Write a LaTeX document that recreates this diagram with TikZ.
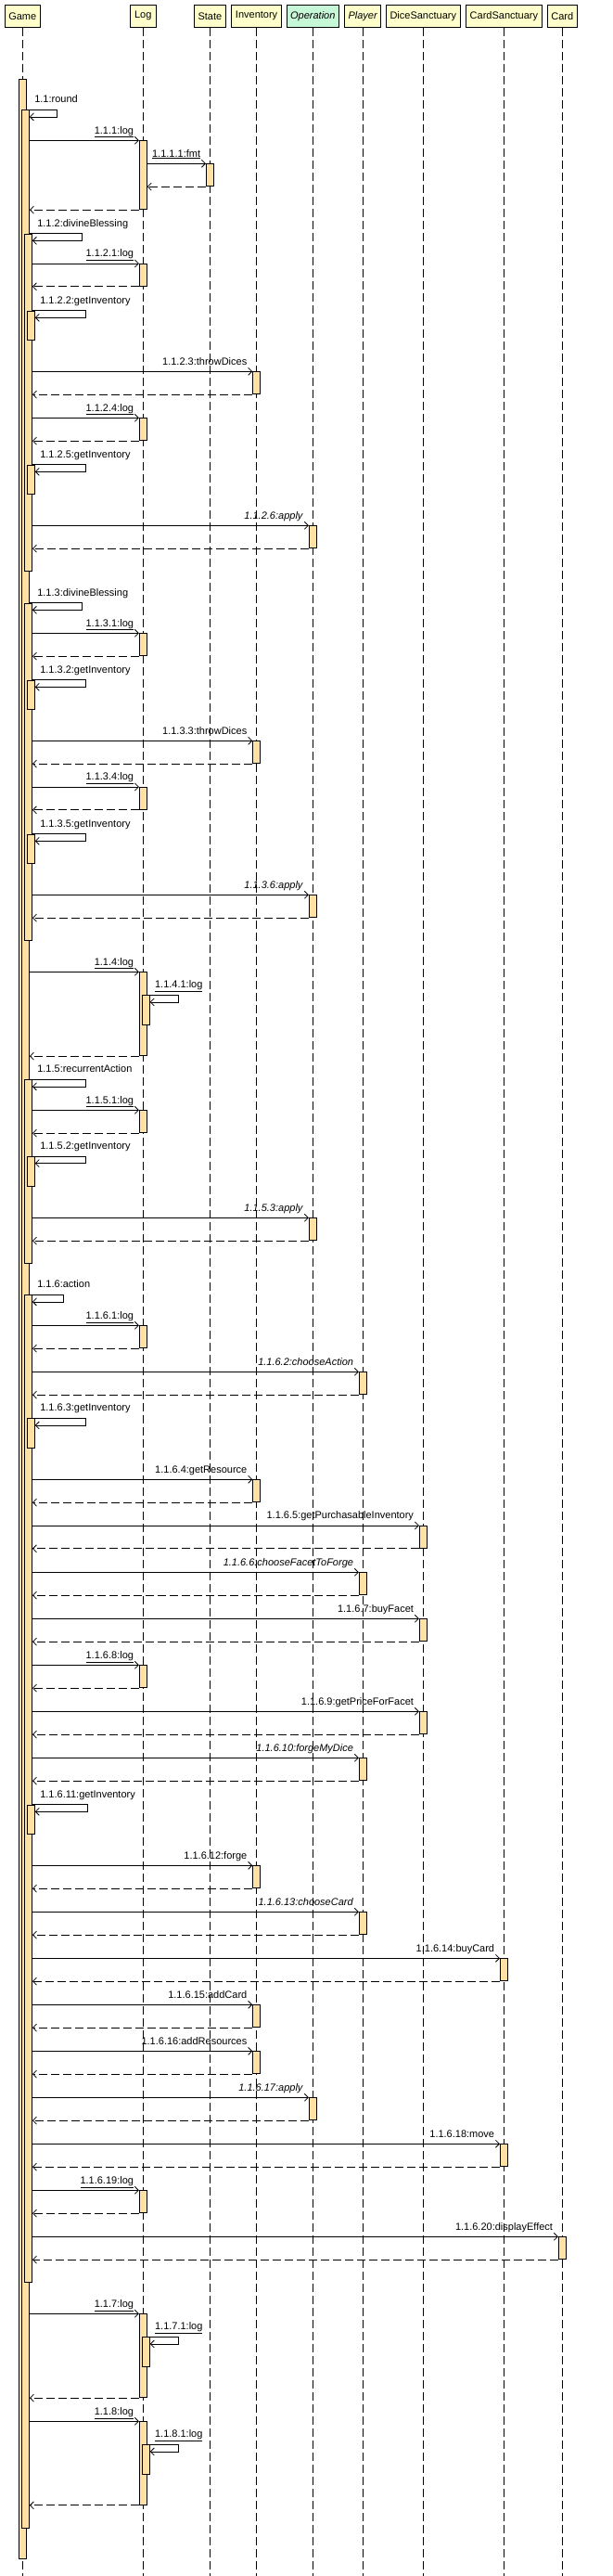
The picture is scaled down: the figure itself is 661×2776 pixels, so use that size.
\documentclass[tikz,border=0pt]{standalone}
\usepackage{fontspec}
\setmainfont{Liberation Sans}
\usepackage{tikz}
\usetikzlibrary{arrows.meta,positioning}
\definecolor{headyellow}{RGB}{255,255,204}
\definecolor{opgreen}{RGB}{198,247,214}
\definecolor{actorange}{RGB}{255,224,165}
\tikzset{
	lifehead/.style={draw,rectangle,fill=headyellow,minimum height=24.5pt,inner xsep=2pt},
	act/.style={draw,rectangle,fill=actorange,minimum width=8pt,minimum height=24pt,inner sep=0pt,anchor=north},
	lifeline/.style={dash pattern=on 9pt off 4pt},
	call/.style={-{Straight Barb[length=4pt,width=8pt]}},
	ret/.style={dash pattern=on 9pt off 4pt,-{Straight Barb[length=4pt,width=8pt]}},
	msg/.style={anchor=base east,xshift=-5.5pt,yshift=7.3pt,inner sep=0pt},
	selfmsg/.style={anchor=base west,xshift=8pt,yshift=7.5pt,inner sep=0pt}
}

\begin{document}
\begin{tikzpicture}[x=1pt,y=-1pt,line width=0.8pt,font=\fontsize{11}{13}\selectfont]
	\useasboundingbox (0,0) rectangle (661,2776);
	\coordinate (bottom) at (0,2776);
	
	\node[lifehead,minimum width=37.6pt] (game) at (24.3,17.25) {Game};
	\node[lifehead,minimum width=28pt] (log) at (154.3,17.25) {Log};
	\node[lifehead,minimum width=33.5pt] (state) at (226.4,17.25) {State};
	\node[lifehead,minimum width=54pt] (inv) at (276.6,17.25) {Inventory};
	\node[lifehead,minimum width=55.6pt,fill=opgreen] (op) at (337.3,17.25) {\textit{Operation}};
	\node[lifehead,minimum width=39pt] (player) at (391.3,17.25) {\textit{Player}};
	\node[lifehead,minimum width=79.5pt] (dice) at (456.3,17.25) {DiceSanctuary};
	\node[lifehead,minimum width=81.5pt] (cards) at (543.4,17.25) {CardSanctuary};
	\node[lifehead,minimum width=32.7pt] (card) at (606.3,17.25) {Card};
	
	\draw[lifeline] (game.south) -- (game.south |- bottom);
	\draw[lifeline] (log.south) -- (log.south |- bottom);
	\draw[lifeline] (state.south) -- (state.south |- bottom);
	\draw[lifeline] (inv.south) -- (inv.south |- bottom);
	\draw[lifeline] (op.south) -- (op.south |- bottom);
	\draw[lifeline] (player.south) -- (player.south |- bottom);
	\draw[lifeline] (dice.south) -- (dice.south |- bottom);
	\draw[lifeline] (cards.south) -- (cards.south |- bottom);
	\draw[lifeline] (card.south) -- (card.south |- bottom);
	
	\node[act,minimum height=2672pt] (g0) at (24.5,85.3) {};
	\node[act,minimum height=2606pt] (g1) at (27.5,118.3) {};
	\draw[call] (g1.north -| g0.east) node[selfmsg] (m11) {1.1:round} -- ++(32.2,0) |- ([yshift=-7.6pt]g1.north east);
	
	% 1.1.1 log
	\node[act,minimum height=74pt] (l111) at (154.3,151.3) {};
	\draw[call] (l111.north west -| g1.east) -- (l111.north west) node[msg] (m111) {\underline{1.1.1:log}};
	\node[act] (s1111) at (226.4,176.3) {};
	\draw[call] (s1111.north west -| l111.east) -- (s1111.north west) node[msg] (m1111) {\underline{1.1.1.1:fmt}};
	\draw[ret] (s1111.south west) -- (s1111.south west -| l111.east);
	\draw[ret] (l111.south west) -- (l111.south west -| g1.east);
	
	% 1.1.2 divineBlessing
	\node[act,minimum height=363.3pt] (g112) at (30.5,251.7) {};
	\draw[call] (g112.north -| g1.east) node[selfmsg] (m112) {1.1.2:divineBlessing} -- ++(56.8,0) |- ([yshift=-7.6pt]g112.north east);
	\node[act] (l1121) at (154.3,284) {};
	\draw[call] (l1121.north west -| g112.east) -- (l1121.north west) node[msg] (m1121) {\underline{1.1.2.1:log}};
	\draw[ret] (l1121.south west) -- (l1121.south west -| g112.east);
	\node[act,minimum height=31.6pt] (g1122) at (33.3,334.7) {};
	\draw[call] (g1122.north -| g112.east) node[selfmsg] (m1122) {1.1.2.2:getInventory} -- ++(57.2,0) |- ([yshift=-7.6pt]g1122.north east);
	\node[act] (i1123) at (276.6,400.3) {};
	\draw[call] (i1123.north west -| g112.east) -- (i1123.north west) node[msg] (m1123) {1.1.2.3:throwDices};
	\draw[ret] (i1123.south west) -- (i1123.south west -| g112.east);
	\node[act] (l1124) at (154.3,450.3) {};
	\draw[call] (l1124.north west -| g112.east) -- (l1124.north west) node[msg] (m1124) {\underline{1.1.2.4:log}};
	\draw[ret] (l1124.south west) -- (l1124.south west -| g112.east);
	\node[act,minimum height=31.6pt] (g1125) at (33.3,500.7) {};
	\draw[call] (g1125.north -| g112.east) node[selfmsg] (m1125) {1.1.2.5:getInventory} -- ++(57.2,0) |- ([yshift=-7.6pt]g1125.north east);
	\node[act] (o1126) at (337.3,566.3) {};
	\draw[call] (o1126.north west -| g112.east) -- (o1126.north west) node[msg] (m1126) {\textit{1.1.2.6:apply}};
	\draw[ret] (o1126.south west) -- (o1126.south west -| g112.east);
	
	% 1.1.3 divineBlessing
	\node[act,minimum height=363.6pt] (g113) at (30.5,649.7) {};
	\draw[call] (g113.north -| g1.east) node[selfmsg] (m113) {1.1.3:divineBlessing} -- ++(56.8,0) |- ([yshift=-7.6pt]g113.north east);
	\node[act] (l1131) at (154.3,682.3) {};
	\draw[call] (l1131.north west -| g113.east) -- (l1131.north west) node[msg] (m1131) {\underline{1.1.3.1:log}};
	\draw[ret] (l1131.south west) -- (l1131.south west -| g113.east);
	\node[act,minimum height=31.6pt] (g1132) at (33.3,732.7) {};
	\draw[call] (g1132.north -| g113.east) node[selfmsg] (m1132) {1.1.3.2:getInventory} -- ++(57.2,0) |- ([yshift=-7.6pt]g1132.north east);
	\node[act] (i1133) at (276.6,798.3) {};
	\draw[call] (i1133.north west -| g113.east) -- (i1133.north west) node[msg] (m1133) {1.1.3.3:throwDices};
	\draw[ret] (i1133.south west) -- (i1133.south west -| g113.east);
	\node[act] (l1134) at (154.3,848) {};
	\draw[call] (l1134.north west -| g113.east) -- (l1134.north west) node[msg] (m1134) {\underline{1.1.3.4:log}};
	\draw[ret] (l1134.south west) -- (l1134.south west -| g113.east);
	\node[act,minimum height=31.6pt] (g1135) at (33.3,898.7) {};
	\draw[call] (g1135.north -| g113.east) node[selfmsg] (m1135) {1.1.3.5:getInventory} -- ++(57.2,0) |- ([yshift=-7.6pt]g1135.north east);
	\node[act] (o1136) at (337.3,964.3) {};
	\draw[call] (o1136.north west -| g113.east) -- (o1136.north west) node[msg] (m1136) {\textit{1.1.3.6:apply}};
	\draw[ret] (o1136.south west) -- (o1136.south west -| g113.east);
	
	% 1.1.4 log
	\node[act,minimum height=90pt] (l114) at (154.3,1047.3) {};
	\draw[call] (l114.north west -| g1.east) -- (l114.north west) node[msg] (m114) {\underline{1.1.4:log}};
	\node[act,minimum height=32pt] (l1141) at (157.3,1072.3) {};
	\draw[call] (l1141.north -| l114.east) node[selfmsg] (m1141) {\underline{1.1.4.1:log}} -- ++(34,0) |- ([yshift=-7.6pt]l1141.north east);
	\draw[ret] (l114.south west) -- (l114.south west -| g1.east);
	
	% 1.1.5 recurrentAction
	\node[act,minimum height=198pt] (g115) at (30.5,1163.3) {};
	\draw[call] (g115.north -| g1.east) node[selfmsg] (m115) {1.1.5:recurrentAction} -- ++(60.2,0) |- ([yshift=-7.6pt]g115.north east);
	\node[act] (l1151) at (154.3,1196.3) {};
	\draw[call] (l1151.north west -| g115.east) -- (l1151.north west) node[msg] (m1151) {\underline{1.1.5.1:log}};
	\draw[ret] (l1151.south west) -- (l1151.south west -| g115.east);
	\node[act,minimum height=31.6pt] (g1152) at (33.3,1246) {};
	\draw[call] (g1152.north -| g115.east) node[selfmsg] (m1152) {1.1.5.2:getInventory} -- ++(57.2,0) |- ([yshift=-7.6pt]g1152.north east);
	\node[act] (o1153) at (337.3,1312.3) {};
	\draw[call] (o1153.north west -| g115.east) -- (o1153.north west) node[msg] (m1153) {\textit{1.1.5.3:apply}};
	\draw[ret] (o1153.south west) -- (o1153.south west -| g115.east);
	
	% 1.1.6 action
	\node[act,minimum height=1064pt] (g116) at (30.5,1395.3) {};
	\draw[call] (g116.north -| g1.east) node[selfmsg] (m116) {1.1.6:action} -- ++(36.8,0) |- ([yshift=-7.6pt]g116.north east);
	\node[act] (l1161) at (154.3,1428.3) {};
	\draw[call] (l1161.north west -| g116.east) -- (l1161.north west) node[msg] (m1161) {\underline{1.1.6.1:log}};
	\draw[ret] (l1161.south west) -- (l1161.south west -| g116.east);
	\node[act] (p1162) at (391.3,1478.3) {};
	\draw[call] (p1162.north west -| g116.east) -- (p1162.north west) node[msg] (m1162) {\textit{1.1.6.2:chooseAction}};
	\draw[ret] (p1162.south west) -- (p1162.south west -| g116.east);
	\node[act,minimum height=31.6pt] (g1163) at (33.3,1528.3) {};
	\draw[call] (g1163.north -| g116.east) node[selfmsg] (m1163) {1.1.6.3:getInventory} -- ++(57.2,0) |- ([yshift=-7.6pt]g1163.north east);
	\node[act] (i1164) at (276.6,1594.3) {};
	\draw[call] (i1164.north west -| g116.east) -- (i1164.north west) node[msg] (m1164) {1.1.6.4:getResource};
	\draw[ret] (i1164.south west) -- (i1164.south west -| g116.east);
	\node[act] (d1165) at (456.3,1644) {};
	\draw[call] (d1165.north west -| g116.east) -- (d1165.north west) node[msg] (m1165) {1.1.6.5:getPurchasableInventory};
	\draw[ret] (d1165.south west) -- (d1165.south west -| g116.east);
	\node[act] (p1166) at (391.3,1694.3) {};
	\draw[call] (p1166.north west -| g116.east) -- (p1166.north west) node[msg] (m1166) {\textit{1.1.6.6:chooseFacetToForge}};
	\draw[ret] (p1166.south west) -- (p1166.south west -| g116.east);
	\node[act] (d1167) at (456.3,1744.3) {};
	\draw[call] (d1167.north west -| g116.east) -- (d1167.north west) node[msg] (m1167) {1.1.6.7:buyFacet};
	\draw[ret] (d1167.south west) -- (d1167.south west -| g116.east);
	\node[act] (l1168) at (154.3,1794.3) {};
	\draw[call] (l1168.north west -| g116.east) -- (l1168.north west) node[msg] (m1168) {\underline{1.1.6.8:log}};
	\draw[ret] (l1168.south west) -- (l1168.south west -| g116.east);
	\node[act] (d1169) at (456.3,1844.3) {};
	\draw[call] (d1169.north west -| g116.east) -- (d1169.north west) node[msg] (m1169) {1.1.6.9:getPriceForFacet};
	\draw[ret] (d1169.south west) -- (d1169.south west -| g116.east);
	\node[act] (p11610) at (391.3,1894.3) {};
	\draw[call] (p11610.north west -| g116.east) -- (p11610.north west) node[msg] (m11610) {\textit{1.1.6.10:forgeMyDice}};
	\draw[ret] (p11610.south west) -- (p11610.south west -| g116.east);
	\node[act,minimum height=31.6pt] (g11611) at (33.3,1944.7) {};
	\draw[call] (g11611.north -| g116.east) node[selfmsg] (m11611) {1.1.6.11:getInventory} -- ++(59.8,0) |- ([yshift=-7.6pt]g11611.north east);
	\node[act] (i11612) at (276.6,2010.3) {};
	\draw[call] (i11612.north west -| g116.east) -- (i11612.north west) node[msg] (m11612) {1.1.6.12:forge};
	\draw[ret] (i11612.south west) -- (i11612.south west -| g116.east);
	\node[act] (p11613) at (391.3,2060.3) {};
	\draw[call] (p11613.north west -| g116.east) -- (p11613.north west) node[msg] (m11613) {\textit{1.1.6.13:chooseCard}};
	\draw[ret] (p11613.south west) -- (p11613.south west -| g116.east);
	\node[act] (c11614) at (543.4,2110.3) {};
	\draw[call] (c11614.north west -| g116.east) -- (c11614.north west) node[msg] (m11614) {1.1.6.14:buyCard};
	\draw[ret] (c11614.south west) -- (c11614.south west -| g116.east);
	\node[act] (i11615) at (276.6,2160.3) {};
	\draw[call] (i11615.north west -| g116.east) -- (i11615.north west) node[msg] (m11615) {1.1.6.15:addCard};
	\draw[ret] (i11615.south west) -- (i11615.south west -| g116.east);
	\node[act] (i11616) at (276.6,2210.3) {};
	\draw[call] (i11616.north west -| g116.east) -- (i11616.north west) node[msg] (m11616) {1.1.6.16:addResources};
	\draw[ret] (i11616.south west) -- (i11616.south west -| g116.east);
	\node[act] (o11617) at (337.3,2260.3) {};
	\draw[call] (o11617.north west -| g116.east) -- (o11617.north west) node[msg] (m11617) {\textit{1.1.6.17:apply}};
	\draw[ret] (o11617.south west) -- (o11617.south west -| g116.east);
	\node[act] (c11618) at (543.4,2310.3) {};
	\draw[call] (c11618.north west -| g116.east) -- (c11618.north west) node[msg] (m11618) {1.1.6.18:move};
	\draw[ret] (c11618.south west) -- (c11618.south west -| g116.east);
	\node[act] (l11619) at (154.3,2360.3) {};
	\draw[call] (l11619.north west -| g116.east) -- (l11619.north west) node[msg] (m11619) {\underline{1.1.6.19:log}};
	\draw[ret] (l11619.south west) -- (l11619.south west -| g116.east);
	\node[act] (k11620) at (606.3,2410.3) {};
	\draw[call] (k11620.north west -| g116.east) -- (k11620.north west) node[msg] (m11620) {1.1.6.20:displayEffect};
	\draw[ret] (k11620.south west) -- (k11620.south west -| g116.east);
	
	% 1.1.7 log
	\node[act,minimum height=90pt] (l117) at (154.3,2493.3) {};
	\draw[call] (l117.north west -| g1.east) -- (l117.north west) node[msg] (m117) {\underline{1.1.7:log}};
	\node[act,minimum height=32pt] (l1171) at (157.3,2518.3) {};
	\draw[call] (l1171.north -| l117.east) node[selfmsg] (m1171) {\underline{1.1.7.1:log}} -- ++(34,0) |- ([yshift=-7.6pt]l1171.north east);
	\draw[ret] (l117.south west) -- (l117.south west -| g1.east);
	
	% 1.1.8 log
	\node[act,minimum height=89.7pt] (l118) at (154.3,2609.3) {};
	\draw[call] (l118.north west -| g1.east) -- (l118.north west) node[msg] (m118) {\underline{1.1.8:log}};
	\node[act,minimum height=32pt] (l1181) at (157.3,2634.3) {};
	\draw[call] (l1181.north -| l118.east) node[selfmsg] (m1181) {\underline{1.1.8.1:log}} -- ++(34,0) |- ([yshift=-7.6pt]l1181.north east);
	\draw[ret] (l118.south west) -- (l118.south west -| g1.east);
\end{tikzpicture}
\end{document}
